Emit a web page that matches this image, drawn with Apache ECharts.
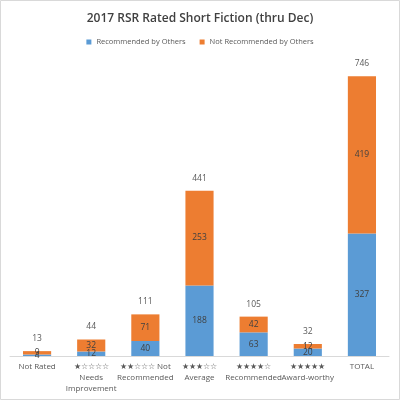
<!DOCTYPE html>
<html><head><meta charset="utf-8">
<script src="https://cdn.jsdelivr.net/npm/echarts@6/dist/echarts.min.js"></script>
<style>html,body{margin:0;padding:0;background:#fff}#c{width:400px;height:400px}</style>
</head><body><div id="c"></div>
<script>
const categories = ['Not Rated','★☆☆☆☆\nNeeds\nImprovement','★★☆☆☆ Not\nRecommended','★★★☆☆\nAverage','★★★★☆\nRecommended','★★★★★\nAward-worthy','TOTAL'];
const recommended = [4, 12, 40, 188, 63, 20, 327];
const notRecommended = [9, 32, 71, 253, 42, 12, 419];
const totals = recommended.map((v, i) => v + notRecommended[i]);

const chart = echarts.init(document.getElementById('c'));
const font = 'Open Sans, Liberation Sans, sans-serif';
chart.setOption({
  animation: false,
  textStyle: { fontFamily: font },
  graphic: [{ type: 'rect', shape: { x: 0.5, y: 0.5, width: 399, height: 399 }, style: { fill: 'none', stroke: '#d9d9d9', lineWidth: 1 } }],
  title: { text: '2017 RSR Rated Short Fiction (thru Dec)', left: 'center', top: 8, textStyle: { fontSize: 12, fontWeight: 600, color: '#404040', fontFamily: font } },
  legend: { top: 33, left: 'center', itemWidth: 5, itemHeight: 5, itemGap: 14, icon: 'rect', textStyle: { fontSize: 7.5, color: '#595959' }, data: ['Recommended by Others', 'Not Recommended by Others'] },
  grid: { left: 10, right: 11, top: 56, bottom: 44, containLabel: false },
  xAxis: { type: 'category', data: categories, axisLine: { lineStyle: { color: '#d9d9d9' } }, axisTick: { show: false },
    axisLabel: { interval: 0, fontSize: 8, color: '#595959', lineHeight: 11, margin: 5 } },
  yAxis: { type: 'value', min: 0, max: 800, show: false, splitLine: { show: false } },
  series: [
    { name: 'Recommended by Others', type: 'bar', stack: 's', data: recommended, barWidth: '52%', itemStyle: { color: '#5B9BD5' },
      label: { show: true, position: 'inside', fontSize: 8.5, color: '#404040' } },
    { name: 'Not Recommended by Others', type: 'bar', stack: 's', data: notRecommended, itemStyle: { color: '#ED7D31' },
      label: { show: true, position: 'inside', fontSize: 8.5, color: '#404040' } },
    { name: 'total', type: 'bar', stack: 's', data: totals.map(() => 0), itemStyle: { color: 'transparent' },
      label: { show: true, position: 'top', distance: 8, fontSize: 8.5, color: '#595959', formatter: p => totals[p.dataIndex] } }
  ]
});
</script></body></html>
